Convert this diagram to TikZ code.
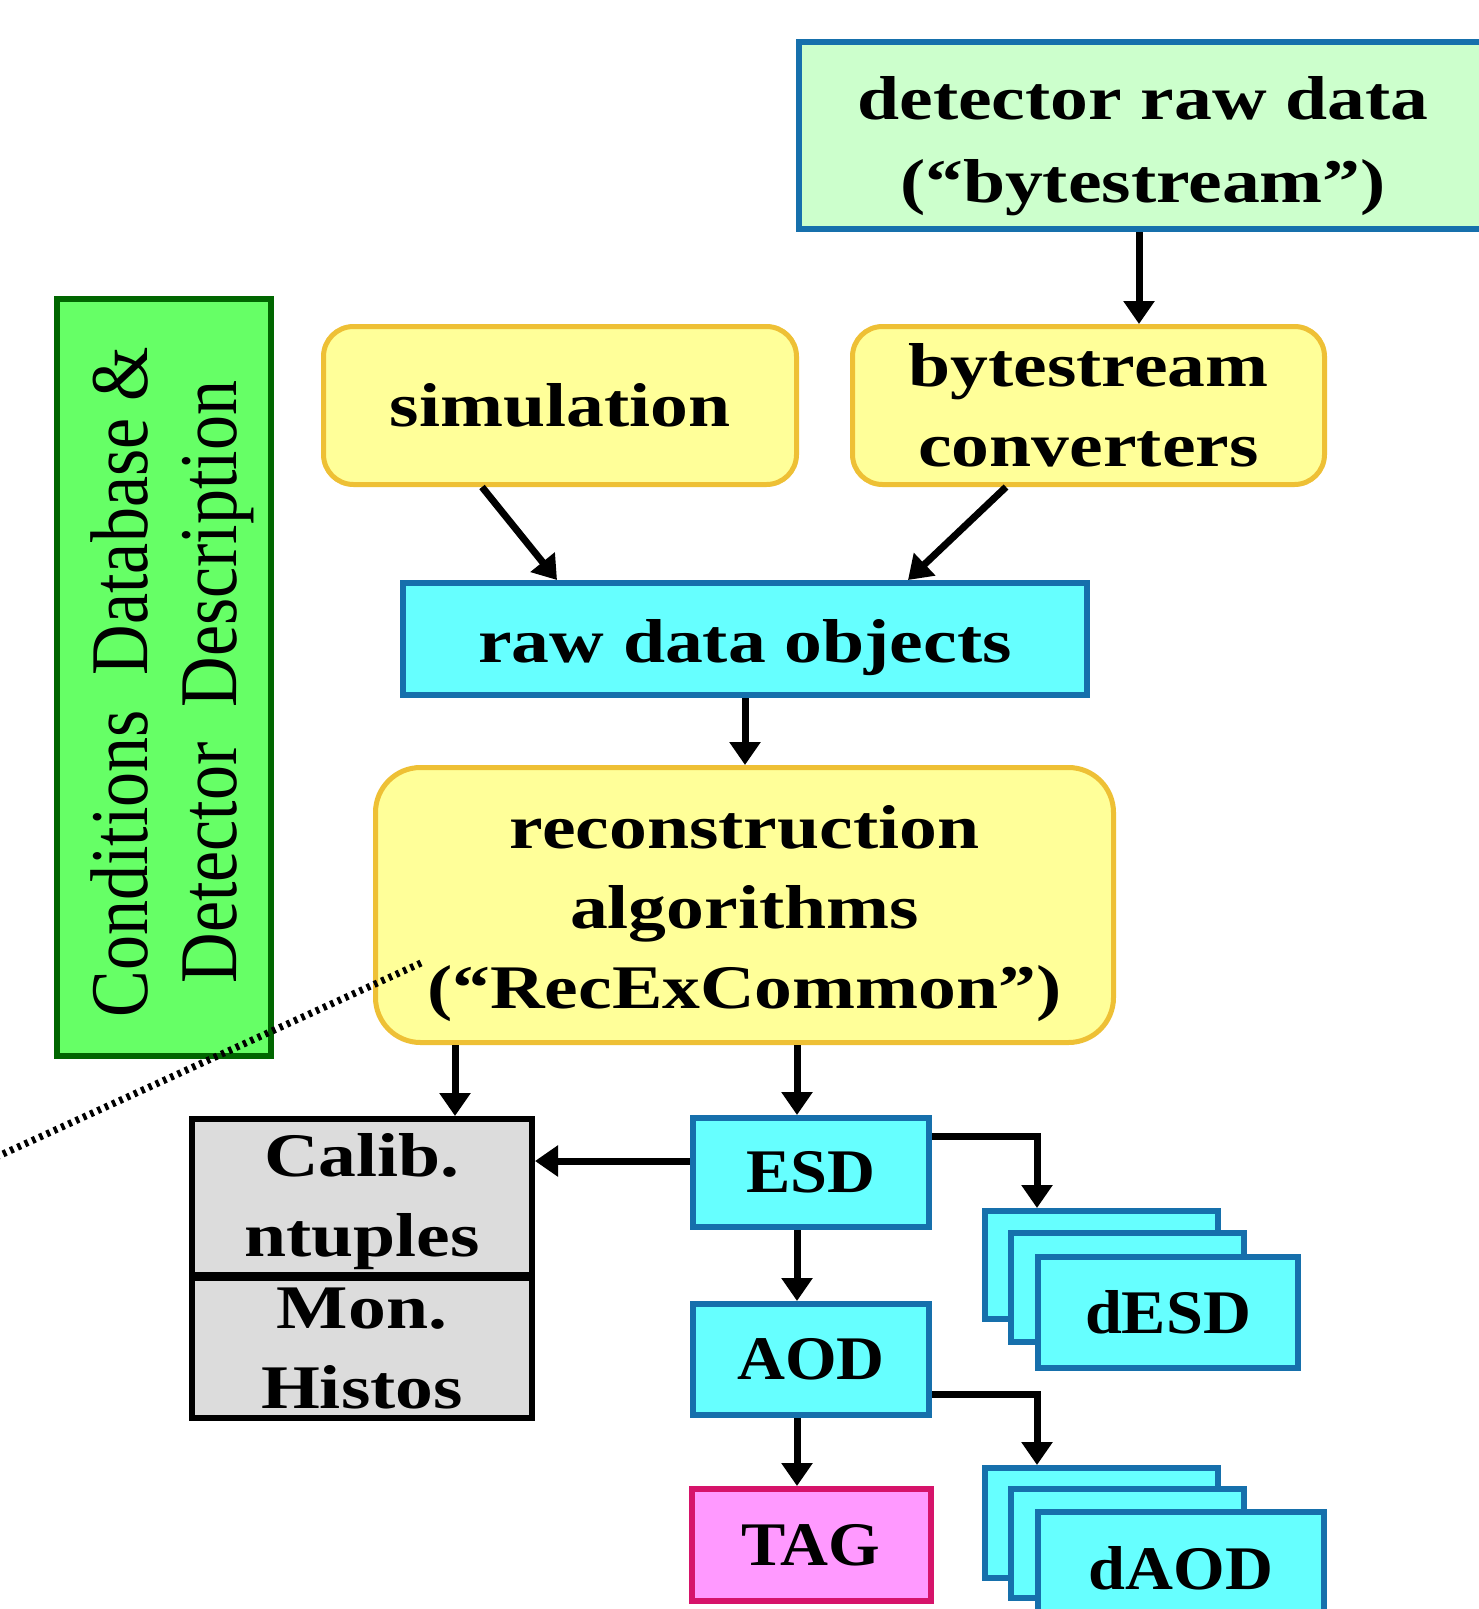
\documentclass[tikz,border=0pt]{standalone}
\usepackage{fontspec}
\usepackage{graphicx}
\usetikzlibrary{arrows.meta}
\newfontfamily\wideserif{Liberation Serif}[FakeStretch=1.22]
\newfontfamily\midserif{Liberation Serif}[FakeStretch=1.07]
\newfontfamily\plainserif{Liberation Serif}
% invisible strut that pads the first line of a node from above
\newcommand{\toppad}[1]{\rule{0pt}{#1pt}}

\definecolor{detfill}{HTML}{CCFFCC}
\definecolor{blueedge}{HTML}{1670AC}
\definecolor{yelfill}{HTML}{FFFF99}
\definecolor{yeledge}{HTML}{EEC035}
\definecolor{cyanfill}{HTML}{66FFFF}
\definecolor{greyfill}{HTML}{DCDCDC}
\definecolor{pinkfill}{HTML}{FF99FF}
\definecolor{pinkedge}{HTML}{D6136A}
\definecolor{greenfill}{HTML}{66FF66}
\definecolor{greenedge}{HTML}{006600}

\tikzset{
  boxtext/.style={align=center, inner sep=0pt,
    font=\wideserif\bfseries\fontsize{62}{80}\selectfont},
  smalltext/.style={font=\midserif\bfseries\fontsize{62}{80}\selectfont},
  databox/.style={boxtext, draw=blueedge, fill=cyanfill, line width=6pt},
  algbox/.style={boxtext, draw=yeledge, fill=yelfill, line width=5pt, rounded corners=30pt},
  greybox/.style={boxtext, draw=black, fill=greyfill, line width=6pt},
  arr/.style={line width=7pt, -{Triangle[width=30pt,length=23pt]}},
}

\begin{document}
\begin{tikzpicture}[x=1pt,y=-1pt]
  \clip (0,0) rectangle (1479,1609);
  \fill[white] (0,0) rectangle (1479,1609);

  % side panel
  \node[draw=greenedge, fill=greenfill, line width=6pt, inner sep=0pt,
        minimum width=214pt, minimum height=757pt] (cond) at (164,677.5) {};
  \node[rotate=90, inner sep=0pt] (condtext) at (174,682)
    {\scalebox{1}[1.17]{\plainserif\fontsize{70}{76}\selectfont
      \begin{tabular}{@{}c@{}}Conditions\ \ Database \&\\Detector\ \ Description\end{tabular}}};

  % input stages
  \node[boxtext, draw=blueedge, fill=detfill, line width=6pt,
        font=\wideserif\bfseries\fontsize{62}{83}\selectfont,
        minimum width=688pt, minimum height=187pt] (det) at (1143,135.5)
        {\toppad{64}detector raw data\\(“bytestream”)};
  \node[algbox, minimum width=473pt, minimum height=158pt] (sim) at (560,405.5) {simulation};
  \node[algbox, minimum width=472pt, minimum height=158pt] (bsc) at (1088.5,405.5)
        {bytestream\\converters};
  \node[databox, minimum width=684pt, minimum height=112pt] (raw) at (745,639)
        {\toppad{60}raw data objects};
  \node[algbox, rounded corners=45pt, minimum width=738pt, minimum height=275pt] (reco) at (744.5,905)
        {\toppad{60}reconstruction\\algorithms\\(“RecExCommon”)};

  % calibration and monitoring outputs
  \node[greybox, minimum width=340pt, minimum height=156pt] (calib) at (362,1197)
        {\toppad{52}Calib.\\ntuples};
  \node[greybox, minimum width=340pt, minimum height=140pt] (mon) at (362,1348) {Mon.\\Histos};

  % event data products
  \node[databox, smalltext, minimum width=236pt, minimum height=109pt] (esd) at (811,1172.5) {ESD};
  \node[databox, smalltext, minimum width=236pt, minimum height=111pt] (aod) at (811,1359.5) {AOD};
  \node[boxtext, smalltext, draw=pinkedge, fill=pinkfill, line width=6pt,
        minimum width=239pt, minimum height=112pt] (tag) at (811,1545) {TAG};

  % derived ESD stack
  \node[databox, minimum width=233pt, minimum height=108pt] (desda) at (1101.5,1265) {};
  \node[databox, minimum width=233pt, minimum height=109pt] (desdb) at (1127.5,1287.5) {};
  \node[databox, smalltext, minimum width=260pt, minimum height=111pt] (desdc) at (1168,1312.5) {dESD};

  % derived AOD stack
  \node[databox, minimum width=233pt, minimum height=110pt] (daoda) at (1101.5,1523) {};
  \node[databox, minimum width=233pt, minimum height=109pt] (daodb) at (1127.5,1543.5) {};
  \node[databox, smalltext, minimum width=286pt, minimum height=112pt] (daodc) at (1181,1568) {dAOD};

  % flow
  \draw[arr] ([xshift=-4pt]det.south) -- ([xshift=-4pt]det.south |- bsc.north);
  \draw[arr] ([xshift=-78pt]sim.south) -- ([xshift=-188pt]raw.north);
  \draw[arr] ([xshift=-82.5pt]bsc.south) -- ([xshift=163pt]raw.north);
  \draw[arr] (raw.south) -- (raw.south |- reco.north);
  \draw[arr] ([xshift=93pt]calib.north |- reco.south) -- ([xshift=93pt]calib.north);
  \draw[arr] ([xshift=-14pt]esd.north |- reco.south) -- ([xshift=-14pt]esd.north);
  \draw[arr] ([yshift=11.5pt]esd.west) -- ([yshift=11.5pt]esd.west -| calib.east);
  \draw[arr] ([xshift=-14pt]esd.south) -- ([xshift=-14pt]aod.north);
  \draw[arr] ([xshift=-14pt]aod.south) -- ([xshift=-14pt]tag.north);
  \draw[arr] ([yshift=36.5pt]esd.east) -| ([xshift=-64.5pt]desda.north);
  \draw[arr] ([yshift=-34.5pt]aod.east) -| ([xshift=-64.5pt]daoda.north);

  % dotted pointer
  \coordinate (ptip) at (421,963);
  \coordinate (ptail) at (-6,1158);
  \draw[line width=7pt, dash pattern=on 3.5pt off 4.5pt] (ptip) -- (ptail);
\end{tikzpicture}
\end{document}
